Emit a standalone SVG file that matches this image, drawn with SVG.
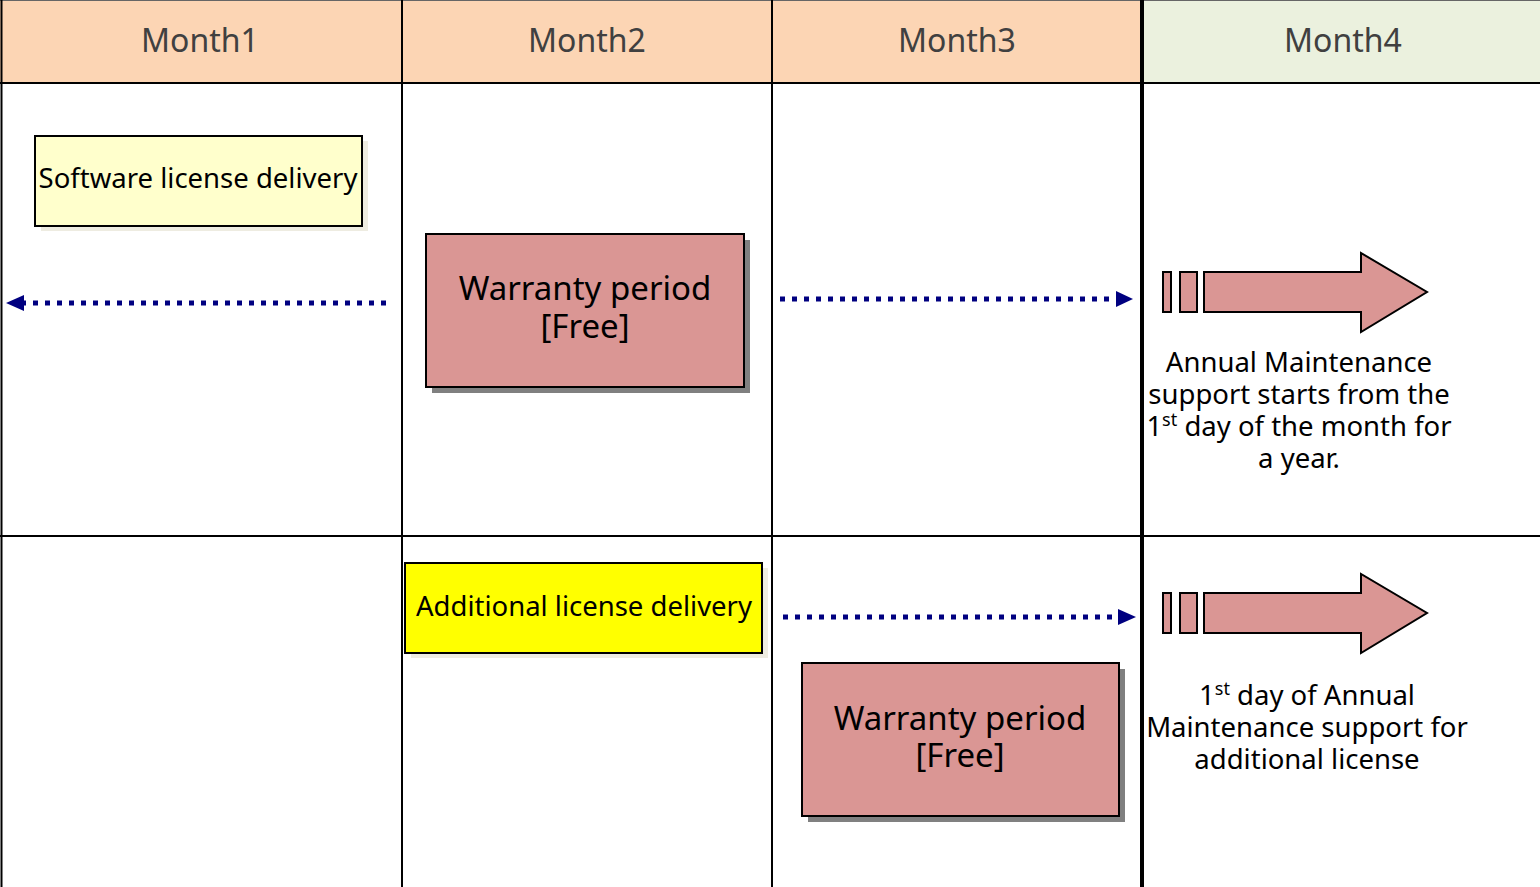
<svg xmlns="http://www.w3.org/2000/svg" width="1540" height="887" viewBox="0 0 1540 887">
<style>
text{font-family:"Noto Sans","DejaVu Sans",sans-serif;}
.hdr{font-size:32px;fill:#404040;text-anchor:middle;}
.grid{stroke:#000;stroke-width:2;fill:none;}
.wbox{fill:#DA9694;stroke:#000;stroke-width:2;}
.wtxt{font-size:33px;fill:#000;text-anchor:middle;}
.note{font-size:27.5px;fill:#000;text-anchor:middle;}
.dot{stroke:#000080;stroke-width:5;stroke-dasharray:5 7;fill:none;}
.blk{fill:#DA9694;stroke:#000;stroke-width:2;}
</style>
<rect x="0" y="0" width="1540" height="887" fill="#fff"/>
<g id="header">
<rect x="0" y="0" width="1142" height="83" fill="#FCD5B4"/>
<rect x="1142" y="0" width="398" height="83" fill="#EBF1DE"/>
<line x1="0" y1="0.5" x2="1540" y2="0.5" stroke="#666" stroke-width="1"/>
<text class="hdr" x="200" y="52">Month1</text>
<text class="hdr" x="587" y="52">Month2</text>
<text class="hdr" x="957" y="52">Month3</text>
<text class="hdr" x="1343" y="52">Month4</text>
</g>
<g id="grid">
<line class="grid" x1="0" y1="83" x2="1540" y2="83"/>
<line class="grid" x1="0" y1="536" x2="1540" y2="536"/>
<line class="grid" x1="1.5" y1="0" x2="1.5" y2="887"/>
<line class="grid" x1="402" y1="0" x2="402" y2="887"/>
<line class="grid" x1="772" y1="0" x2="772" y2="887"/>
<line x1="1142" y1="0" x2="1142" y2="887" stroke="#000" stroke-width="4"/>
</g>
<g id="software-license">
<rect x="41" y="141" width="327" height="90" fill="#EEECE1"/>
<rect x="35" y="136" width="327" height="90" fill="#FFFFCC" stroke="#000" stroke-width="2"/>
<text x="198" y="188" font-size="27.5" text-anchor="middle">Software license delivery</text>
</g>
<g id="warranty-1">
<rect x="432" y="240" width="318" height="153" fill="#808080"/>
<rect class="wbox" x="426" y="234" width="318" height="153"/>
<text class="wtxt" x="585" y="300">Warranty period</text>
<text class="wtxt" x="585" y="338">[Free]</text>
</g>
<g id="additional-license">
<rect x="411" y="568" width="357" height="90" fill="#EEECE1"/>
<rect x="405" y="563" width="357" height="90" fill="#FFFF00" stroke="#000" stroke-width="2"/>
<text x="584" y="616" font-size="27.5" text-anchor="middle">Additional license delivery</text>
</g>
<g id="warranty-2">
<rect x="808" y="669" width="317" height="153" fill="#808080"/>
<rect class="wbox" x="802" y="663" width="317" height="153"/>
<text class="wtxt" x="960" y="730">Warranty period</text>
<text class="wtxt" x="960" y="767">[Free]</text>
</g>
<g id="maintenance-1">
<rect class="blk" x="1163" y="272" width="8" height="40"/>
<rect class="blk" x="1180" y="272" width="17" height="40"/>
<path class="blk" d="M1204,272 H1361 V253 L1427,292 L1361,332 V312 H1204 Z"/>
<text class="note" x="1299" y="372">Annual Maintenance</text>
<text class="note" x="1299" y="404">support starts from the</text>
<text class="note" x="1299" y="436">1<tspan font-size="18" dy="-10">st</tspan><tspan dy="10"> day of the month for</tspan></text>
<text class="note" x="1299" y="468">a year.</text>
</g>
<g id="maintenance-2">
<rect class="blk" x="1163" y="593" width="8" height="40"/>
<rect class="blk" x="1180" y="593" width="17" height="40"/>
<path class="blk" d="M1204,593 H1361 V574 L1427,613 L1361,653 V633 H1204 Z"/>
<text class="note" x="1307" y="705">1<tspan font-size="18" dy="-10">st</tspan><tspan dy="10"> day of Annual</tspan></text>
<text class="note" x="1307" y="737">Maintenance support for</text>
<text class="note" x="1307" y="769">additional license</text>
</g>
<g id="connectors">
<line class="dot" x1="386" y1="303" x2="24" y2="303"/>
<path d="M24,295 L6,303 L24,311 Z" fill="#000080"/>
<line class="dot" x1="780" y1="299" x2="1116" y2="299"/>
<path d="M1116,291 L1133,299 L1116,307 Z" fill="#000080"/>
<line class="dot" x1="783" y1="617" x2="1118" y2="617"/>
<path d="M1118,609 L1136,617 L1118,625 Z" fill="#000080"/>
</g>
</svg>
